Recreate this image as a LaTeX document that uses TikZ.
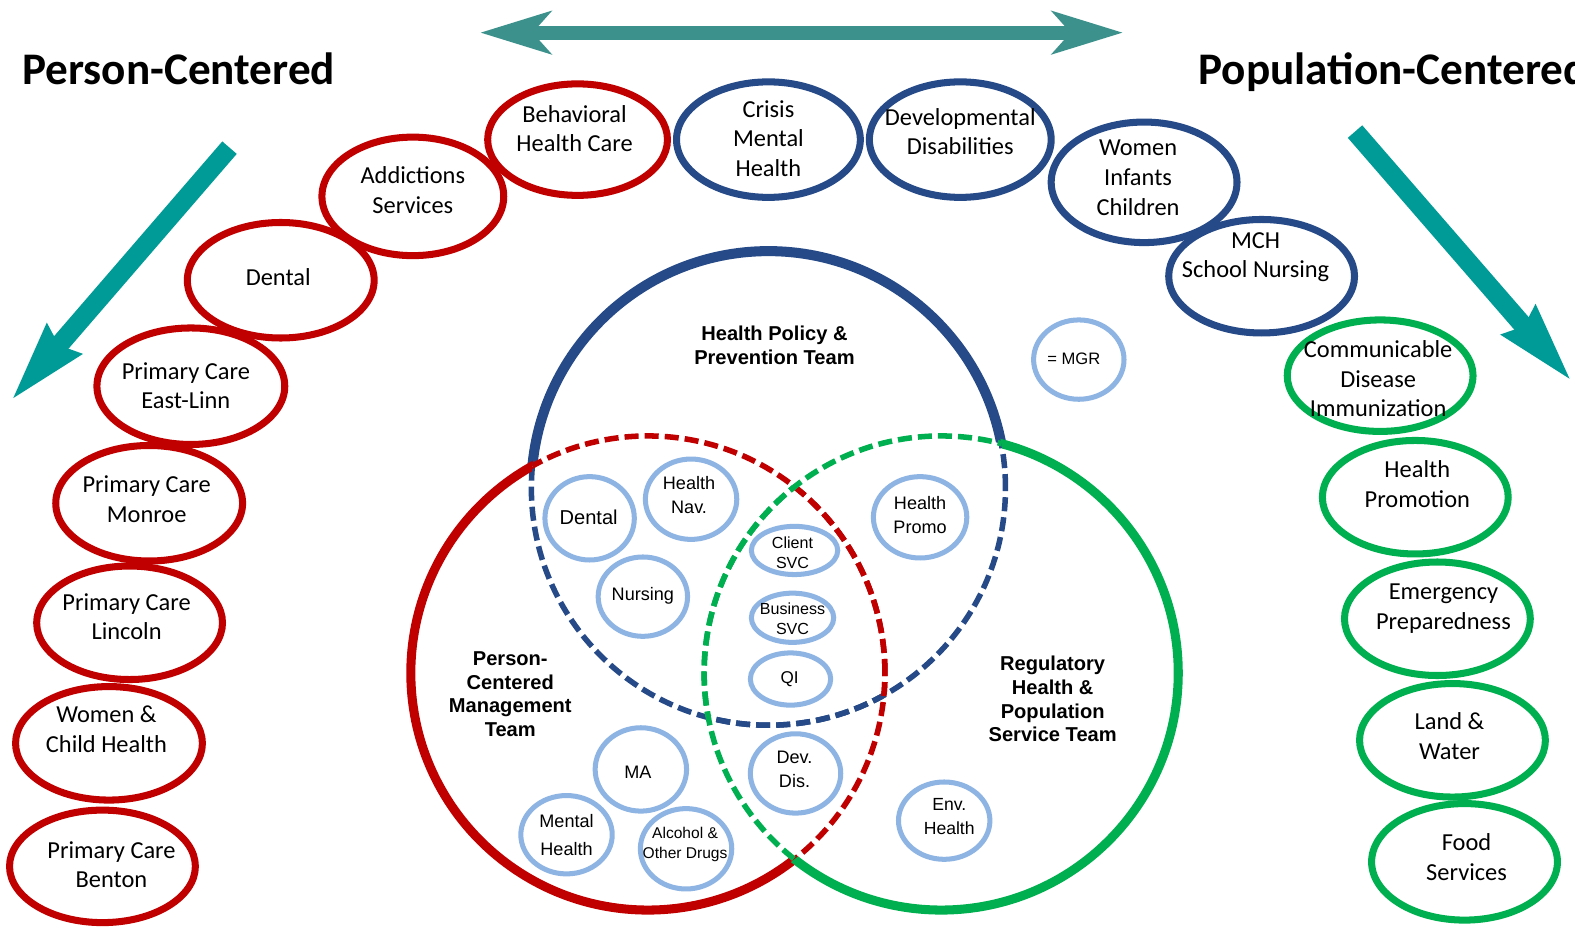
\documentclass[tikz,border=0pt]{standalone}
\usepackage{fontspec}
\setmainfont{Carlito}
\newfontfamily\arialf{Liberation Sans}
\usetikzlibrary{arrows.meta,shapes.geometric}
\definecolor{pcred}{HTML}{C00000}
\definecolor{pcblue}{HTML}{254A87}
\definecolor{pcgreen}{HTML}{00B050}
\definecolor{pclight}{HTML}{8EB4E3}
\definecolor{tealA}{HTML}{3C918C}
\definecolor{tealB}{HTML}{009B96}
\begin{document}
\begin{tikzpicture}[x=1pt,y=-1pt,
  oe/.style={ellipse, draw=#1, line width=7pt, inner sep=0pt},
  ie/.style={ellipse, draw=pclight, fill=white, line width=5pt, inner sep=0pt},
  olbl/.style={align=center, font=\fontsize{24.3}{29.5}\selectfont, inner sep=0pt},
  ilbl/.style={align=center, font=\arialf\fontsize{18}{24}\selectfont, inner sep=0pt},
  team/.style={align=center, font=\arialf\bfseries\fontsize{20}{23.5}\selectfont, inner sep=0pt},
  bigtitle/.style={font=\bfseries\fontsize{45}{50}\selectfont, inner sep=0pt, anchor=base west},
  solidring/.style={line width=9pt},
  dashring/.style={line width=5.5pt, dash pattern=on 14pt off 6pt},
]
\useasboundingbox (0,0) rectangle (1568,926);
\fill[white] (0,0) rectangle (1568,926);

% ---------- titles ----------
\begin{scope}
\clip (0,0) rectangle (1568,926);
\node[bigtitle] (tleft) at (22,84) {Person-Centered};
\node[bigtitle] (tright) at (1193,84) {Population-Centered};
\end{scope}

% ---------- arrows ----------
\coordinate (al) at (478,32.5);
\coordinate (ar) at (1118,32.5);
\draw[tealA, line width=14pt,
  {Stealth[length=70pt,width=42pt,inset=18pt]}-{Stealth[length=70pt,width=42pt,inset=18pt]}] (al) -- (ar);
\coordinate (dls) at (228.5,147);
\coordinate (dlt) at (10,400);
\draw[tealB, line width=19pt, -{Stealth[length=79pt,width=41pt,inset=5pt]}] (dls) -- (dlt);
\coordinate (drs) at (1349,131);
\coordinate (drt) at (1566,381);
\draw[tealB, line width=19pt, -{Stealth[length=79pt,width=40pt,inset=5pt]}] (drs) -- (drt);

% ---------- outer ellipses ----------
\node[oe=pcred, minimum width=179pt, minimum height=111pt] (beh) at (575,139) {};
\node[oe=pcblue, minimum width=183pt, minimum height=115pt] (cri) at (765,139) {};
\node[oe=pcblue, minimum width=181pt, minimum height=115pt] (dev) at (956,139) {};
\node[oe=pcblue, minimum width=185pt, minimum height=120pt] (wic) at (1139,181.5) {};
\node[oe=pcblue, minimum width=185pt, minimum height=113pt] (mch) at (1256,275) {};
\node[oe=pcgreen, minimum width=185pt, minimum height=111pt] (cdi) at (1374,374) {};
\node[oe=pcgreen, minimum width=185pt, minimum height=113pt] (hpr) at (1409,495) {};
\node[oe=pcgreen, minimum width=185pt, minimum height=113pt] (emp) at (1431,616) {};
\node[oe=pcgreen, minimum width=185pt, minimum height=113pt] (lwa) at (1446,737) {};
\node[oe=pcgreen, minimum width=185pt, minimum height=116pt] (fse) at (1458,858) {};
\node[oe=pcred, minimum width=181pt, minimum height=118pt] (add) at (411,195.5) {};
\node[oe=pcred, minimum width=186pt, minimum height=115pt] (den) at (279.5,279) {};
\node[oe=pcred, minimum width=187pt, minimum height=116pt] (pel) at (190,384.5) {};
\node[oe=pcred, minimum width=186pt, minimum height=115pt] (pmo) at (148.5,501) {};
\node[oe=pcred, minimum width=185pt, minimum height=113pt] (pli) at (129,620) {};
\node[oe=pcred, minimum width=186pt, minimum height=113pt] (wch) at (108.5,740) {};
\node[oe=pcred, minimum width=185pt, minimum height=112pt] (pbe) at (102,862.5) {};

\node[olbl] (tbeh) at (572,128) {Behavioral\\Health Care};
\node[olbl] (tcri) at (765,138) {Crisis\\Mental\\Health};
\node[olbl] (tdev) at (956,131) {Developmental\\Disabilities};
\node[olbl] (twic) at (1133,177) {Women\\Infants\\Children};
\node[olbl] (tmch) at (1250,256) {MCH\\School Nursing};
\node[olbl] (tcdi) at (1372,377) {Communicable\\Disease\\Immunization};
\node[olbl] (thpr) at (1411,482) {Health\\Promotion};
\node[olbl] (temp) at (1437,606) {Emergency\\Preparedness};
\node[olbl] (tlwa) at (1443,733) {Land \&\\Water};
\node[olbl] (tfse) at (1460,853) {Food\\Services};
\node[olbl] (tadd) at (411,189) {Addictions\\Services};
\node[olbl] (tden) at (277,276) {Dental};
\node[olbl] (tpel) at (185,384) {Primary Care\\East-Linn};
\node[olbl] (tpmo) at (146,497) {Primary Care\\Monroe};
\node[olbl] (tpli) at (126,614) {Primary Care\\Lincoln};
\node[olbl] (twch) at (106,726) {Women \&\\Child Health};
\node[olbl] (tpbe) at (111,861) {Primary Care\\Benton};

% ---------- Venn circles ----------
\coordinate (cB) at (765,486);
\coordinate (cR) at (645,670);
\coordinate (cG) at (937,670);
\def\rr{236pt}
% blue
\begin{scope}[even odd rule]
 \clip (-50,-50) rectangle (1650,1000) (cR) circle[radius=\rr];
 \clip (-50,-50) rectangle (1650,1000) (cG) circle[radius=\rr];
 \draw[pcblue, line width=10pt] (cB) circle[radius=\rr];
\end{scope}
\begin{scope}
 \clip (cR) circle[radius=\rr];
 \draw[pcblue, dashring] (cB) circle[radius=\rr];
\end{scope}
\begin{scope}
 \clip (cG) circle[radius=\rr];
 \draw[pcblue, dashring] (cB) circle[radius=\rr];
\end{scope}
% red
\begin{scope}[even odd rule]
 \clip (-50,-50) rectangle (1650,1000) (cB) circle[radius=\rr];
 \clip (-50,-50) rectangle (1650,1000) (cG) circle[radius=\rr];
 \draw[pcred, solidring] (cR) circle[radius=\rr];
\end{scope}
\begin{scope}
 \clip (cB) circle[radius=\rr];
 \draw[pcred, dashring] (cR) circle[radius=\rr];
\end{scope}
\begin{scope}
 \clip (cG) circle[radius=\rr];
 \draw[pcred, dashring] (cR) circle[radius=\rr];
\end{scope}
% green
\begin{scope}[even odd rule]
 \clip (-50,-50) rectangle (1650,1000) (cB) circle[radius=\rr];
 \clip (-50,-50) rectangle (1650,1000) (cR) circle[radius=\rr];
 \draw[pcgreen, solidring] (cG) circle[radius=\rr];
\end{scope}
\begin{scope}
 \clip (cB) circle[radius=\rr];
 \draw[pcgreen, dashring] (cG) circle[radius=\rr];
\end{scope}
\begin{scope}
 \clip (cR) circle[radius=\rr];
 \draw[pcgreen, dashring] (cG) circle[radius=\rr];
\end{scope}

% ---------- team labels ----------
\node[team] (thp) at (771,344) {Health Policy \&\\Prevention Team};
\node[team] (tpc) at (508,691) {Person-\\Centered\\Management\\Team};
\node[team] (trh) at (1048,696) {Regulatory\\Health \&\\Population\\Service Team};

% ---------- inner ellipses ----------
\node[ie, minimum width=89pt, minimum height=83pt] (iden) at (587,516) {};
\node[ie, minimum width=91pt, minimum height=80pt] (inav) at (688,497) {};
\node[ie, minimum width=89pt, minimum height=79pt] (inur) at (640,594) {};
\node[ie, minimum width=86pt, minimum height=48pt] (icli) at (791,548) {};
\node[ie, minimum width=82pt, minimum height=49pt] (ibus) at (789,615) {};
\node[ie, minimum width=80pt, minimum height=52pt] (iqi) at (787,676) {};
\node[ie, minimum width=93pt, minimum height=81pt] (ihp) at (916,515) {};
\node[ie, minimum width=90pt, minimum height=79pt] (imgr) at (1074,358) {};
\node[ie, minimum width=91pt, minimum height=83pt] (ima) at (638,766) {};
\node[ie, minimum width=91pt, minimum height=78pt] (imh) at (564,831) {};
\node[ie, minimum width=91pt, minimum height=80pt] (iaod) at (683,845) {};
\node[ie, minimum width=90pt, minimum height=79pt] (idd) at (792,770) {};
\node[ie, minimum width=91pt, minimum height=77pt] (ieh) at (940,817) {};

\node[ilbl, font=\arialf\fontsize{20}{24}\selectfont] (tiden) at (586,515) {Dental};
\node[ilbl] (tinav) at (686,493) {Health\\Nav.};
\node[ilbl] (tinur) at (640,593) {Nursing};
\node[ilbl, font=\arialf\fontsize{16}{20}\selectfont] (ticli) at (789,550) {Client\\SVC};
\node[ilbl, font=\arialf\fontsize{16}{20}\selectfont] (tibus) at (789,616) {Business\\SVC};
\node[ilbl, font=\arialf\fontsize{17}{20}\selectfont] (tiqi) at (786,676) {QI};
\node[ilbl] (tihp) at (916,513) {Health\\Promo};
\node[ilbl, font=\arialf\fontsize{16.5}{20}\selectfont] (timgr) at (1069,357) {= MGR};
\node[ilbl] (tima) at (635,769) {MA};
\node[ilbl, font=\arialf\fontsize{18}{28}\selectfont] (timh) at (564,831) {Mental\\Health};
\node[ilbl, font=\arialf\fontsize{15.5}{20}\selectfont] (tiaod) at (682,841) {Alcohol \&\\Other Drugs};
\node[ilbl] (tidd) at (791,766) {Dev.\\Dis.};
\node[ilbl, font=\arialf\fontsize{17.5}{24}\selectfont] (tieh) at (945,813) {Env.\\Health};
\end{tikzpicture}
\end{document}
